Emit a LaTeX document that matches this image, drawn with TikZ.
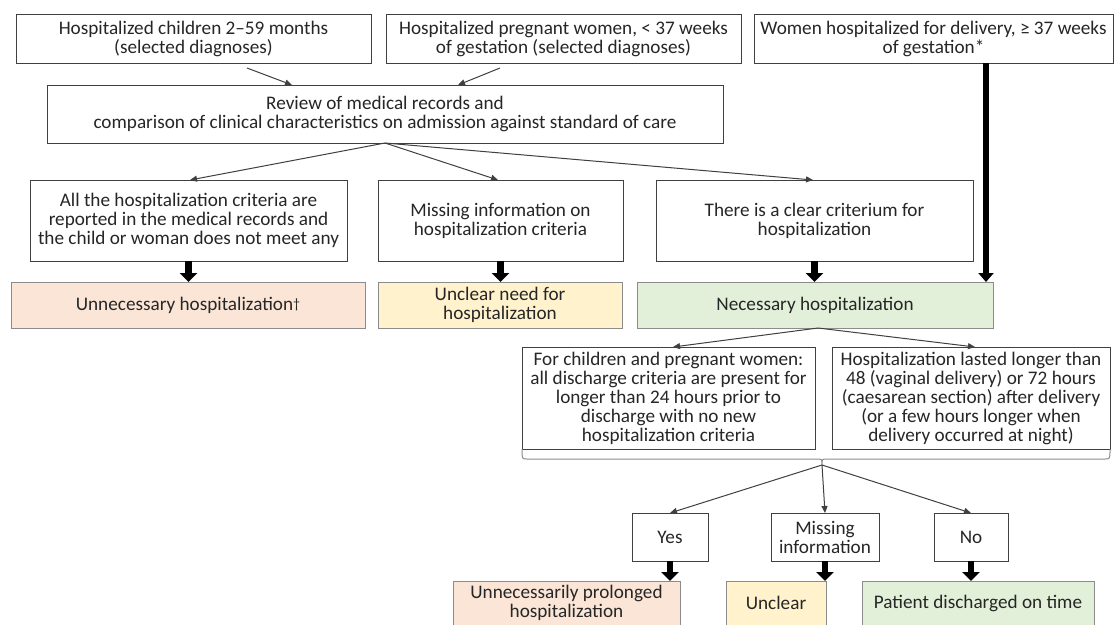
\documentclass[tikz,border=0pt]{standalone}
\usepackage{fontspec}
\setmainfont{Carlito}
\usetikzlibrary{arrows.meta,calc}
\definecolor{peach}{HTML}{FBE5D6}
\definecolor{lyellow}{HTML}{FFF2CC}
\definecolor{lgreen}{HTML}{E2F0D9}
\definecolor{txt}{HTML}{262626}
\definecolor{bord}{HTML}{404040}
\definecolor{bordc}{HTML}{8C8C8C}
\begin{document}
\begin{tikzpicture}[x=1pt,y=-1pt, font=\fontsize{19.2}{19}\selectfont,
 box/.style={draw=bord, line width=1pt, fill=white, text=txt, align=center, inner sep=0pt, outer sep=0pt},
 cbox/.style={draw=bordc, line width=1pt, text=txt, align=center, inner sep=0pt, outer sep=0pt},
 thinarrow/.style={draw=bord, line width=1pt, -{Triangle[length=7pt,width=6pt]}},
 thickarrow/.style={draw=black, line width=6.5pt, -{Triangle[length=9pt,width=17pt]}},
 droparrow/.style={draw=black, line width=5.5pt, -{Triangle[length=9pt,width=15pt]}}]
\useasboundingbox (0,0) rectangle (1116,624);
\clip (0,0) rectangle (1116,624);
\fill[white] (0,0) rectangle (1116,624);

% top row
\node[box, minimum width=355pt, minimum height=49pt] (A) at (193.5,38.5) {Hospitalized children 2–59 months\\(selected diagnoses)};
\node[box, minimum width=355pt, minimum height=49pt] (B) at (563.5,38.5) {Hospitalized pregnant women, < 37 weeks\\of gestation (selected diagnoses)};
\node[box, minimum width=359pt, minimum height=49pt] (C) at (933.5,38.5) {Women hospitalized for delivery, ≥ 37 weeks\\of gestation*};

\node[box, minimum width=676pt, minimum height=58pt] (R) at (385,114) {Review of medical records and\\comparison of clinical characteristics on admission against standard of care};

% row 3
\node[box, minimum width=317pt, minimum height=81pt] (D) at (188.5,220.5) {All the hospitalization criteria are\\reported in the medical records and\\the child or woman does not meet any};
\node[box, minimum width=245pt, minimum height=81pt] (E) at (500.5,220.5) {Missing information on\\hospitalization criteria};
\node[box, minimum width=317pt, minimum height=81pt] (F) at (814.5,220.5) {There is a clear criterium for\\hospitalization};

% row 4
\node[cbox, fill=peach, minimum width=354pt, minimum height=46pt] (U) at (188,305) {Unnecessary hospitalization{\fontsize{14}{14}\selectfont\raisebox{2pt}{†}}};
\node[cbox, fill=lyellow, minimum width=244pt, minimum height=46pt] (UN) at (500,305) {Unclear need for\\hospitalization};
\node[cbox, fill=lgreen, minimum width=356pt, minimum height=46pt] (N) at (815,305) {Necessary hospitalization};

% row 5
\node[box, minimum width=293pt, minimum height=102pt] (G) at (668.5,398) {For children and pregnant women:\\all discharge criteria are present for\\longer than 24 hours prior to\\discharge with no new\\hospitalization criteria};
\node[box, minimum width=278pt, minimum height=102pt] (H) at (971,398) {Hospitalization lasted longer than\\48 (vaginal delivery) or 72 hours\\(caesarean section) after delivery\\(or a few hours longer when\\delivery occurred at night)};

% row 6
\node[box, minimum width=76pt, minimum height=48pt] (Y) at (670,537) {Yes};
\node[box, minimum width=108pt, minimum height=48pt] (M) at (825,537) {Missing\\information};
\node[box, minimum width=74pt, minimum height=48pt] (No) at (971,537) {No};

% row 7
\node[cbox, fill=peach, minimum width=227pt, minimum height=44pt] (UP) at (566.5,603) {Unnecessarily prolonged\\hospitalization};
\node[cbox, fill=lyellow, minimum width=100pt, minimum height=44pt] (UC) at (776,603) {Unclear};
\node[cbox, fill=lgreen, minimum width=232pt, minimum height=44pt] (P) at (978,603) {Patient discharged on time};

% thin arrows top
\coordinate (a1) at (247,68);
\coordinate (b1) at (500,68);
\draw[thinarrow] (a1) -- (R.north -| 292,0);
\draw[thinarrow] (b1) -- (R.north -| 458,0);

% review fan
\coordinate (rf) at (385,143);
\draw[thinarrow] (rf) -- (D.north -| 190,0);
\draw[thinarrow] (rf) -- (E.north -| 498,0);
\draw[thinarrow] (rf) -- (F.north -| 813,0);

% thick arrows row3 -> row4
\draw[thickarrow] (D.south) -- (D.south |- U.north);
\draw[thickarrow] (E.south) -- (E.south |- UN.north);
\draw[thickarrow] (F.south) -- (F.south |- N.north);
\coordinate (cx) at (986,0);
\draw[droparrow] (cx |- C.south) -- (cx |- N.north);

% necessary fan
\coordinate (nf) at (818,328);
\draw[thinarrow] (nf) -- (G.north -| 673,0);
\draw[thinarrow] (nf) -- (H.north -| 975,0);

% brace
\coordinate (bt) at (822,465);
\draw[bordc, line width=1pt] (G.south west) .. controls (522,459) .. (527,459) -- (817,459) .. controls (822,459) .. (bt) .. controls (822,459) .. (827,459) -- (1105,459) .. controls (1110,459) .. (H.south east);

\draw[thinarrow] (bt) -- (Y.north);
\draw[thinarrow] (bt) -- (M.north);
\draw[thinarrow] (bt) -- (No.north);

% thick arrows row6 -> row7
\draw[thickarrow] (Y.south) -- (Y.south |- UP.north);
\draw[thickarrow] (M.south) -- (M.south |- UC.north);
\draw[thickarrow] (No.south) -- (No.south |- P.north);
\end{tikzpicture}
\end{document}
